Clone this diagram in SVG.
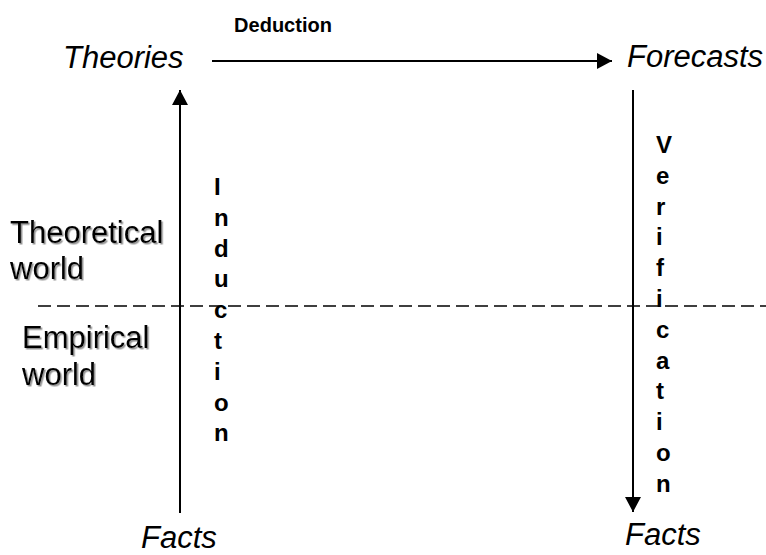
<svg xmlns="http://www.w3.org/2000/svg" width="766" height="555" viewBox="0 0 766 555">
  <defs>
    <marker id="head" markerWidth="16" markerHeight="16" refX="15" refY="8" orient="auto" markerUnits="userSpaceOnUse">
      <path d="M0,0 L15,8 L0,16 Z" fill="#000"/>
    </marker>
    <filter id="shadow" x="-10%" y="-20%" width="130%" height="150%">
      <feDropShadow dx="1.5" dy="1.5" stdDeviation="0.6" flood-color="#777" flood-opacity="0.8"/>
    </filter>
    <style>
      .term { font-family: "Liberation Sans", Arial, sans-serif; font-style: italic; font-size: 31px; fill: #000; }
      .world { font-family: "Liberation Sans", Arial, sans-serif; font-size: 31px; fill: #000; filter: url(#shadow); }
      .label { font-family: "Liberation Sans", Arial, sans-serif; font-weight: bold; font-size: 20px; fill: #000; }
      .vlabel { font-family: "Liberation Sans", Arial, sans-serif; font-weight: bold; font-size: 24px; fill: #000; }
      .conn { stroke: #000; stroke-width: 2; fill: none; }
      .divider { stroke: #000; stroke-width: 1.5; stroke-dasharray: 13 6; fill: none; }
    </style>
  </defs>

  <rect width="766" height="555" fill="#fff"/>

  <!-- boundary between the two worlds -->
  <line class="divider" x1="38" y1="306" x2="766" y2="306"/>

  <g id="connectors">
    <!-- Deduction: Theories -> Forecasts -->
    <line class="conn" x1="212" y1="61" x2="612" y2="61" marker-end="url(#head)"/>
    <!-- Induction: Facts -> Theories -->
    <line class="conn" x1="180" y1="513" x2="180" y2="90" marker-end="url(#head)"/>
    <!-- Verification: Forecasts -> Facts -->
    <line class="conn" x1="633" y1="90" x2="633" y2="512" marker-end="url(#head)"/>
  </g>

  <g id="theories"><text class="term" x="63" y="68">Theories</text></g>
  <g id="forecasts"><text class="term" x="627" y="67">Forecasts</text></g>
  <g id="facts-left"><text class="term" x="141" y="548">Facts</text></g>
  <g id="facts-right"><text class="term" x="625" y="545">Facts</text></g>

  <g id="theoretical-world">
    <text class="world" x="10" y="243">Theoretical</text>
    <text class="world" x="10" y="279">world</text>
  </g>
  <g id="empirical-world">
    <text class="world" x="22" y="348">Empirical</text>
    <text class="world" x="22" y="385">world</text>
  </g>

  <g id="deduction-label"><text class="label" x="283" y="32" text-anchor="middle">Deduction</text></g>

  <g id="induction-label" class="vlabel">
    <text x="214" y="195">I</text>
    <text x="214" y="226">n</text>
    <text x="214" y="257">d</text>
    <text x="214" y="287">u</text>
    <text x="214" y="318">c</text>
    <text x="214" y="349">t</text>
    <text x="214" y="380">i</text>
    <text x="214" y="411">o</text>
    <text x="214" y="441">n</text>
  </g>

  <g id="verification-label" class="vlabel">
    <text x="656" y="153">V</text>
    <text x="656" y="184">e</text>
    <text x="656" y="215">r</text>
    <text x="656" y="245">i</text>
    <text x="656" y="276">f</text>
    <text x="656" y="307">i</text>
    <text x="656" y="338">c</text>
    <text x="656" y="369">a</text>
    <text x="656" y="399">t</text>
    <text x="656" y="430">i</text>
    <text x="656" y="461">o</text>
    <text x="656" y="492">n</text>
  </g>
</svg>
